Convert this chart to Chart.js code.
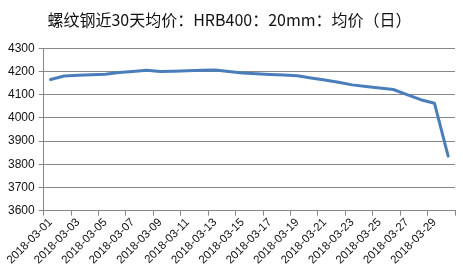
<!DOCTYPE html>
<html>
<head>
<meta charset="utf-8">
<script src="https://cdn.jsdelivr.net/npm/chart.js@4"></script>
<style>
  html, body { margin: 0; padding: 0; background: #fff; }
  #wrap { width: 463px; height: 277px; }
</style>
</head>
<body>
<div id="wrap"><canvas id="priceChart" width="463" height="277"></canvas></div>
<script>
// 2018-03-01 .. 2018-03-30
const dates = [];
for (let d = 1; d <= 30; d++) {
    dates.push('2018-03-' + (d < 10 ? '0' + d : d));
}
const avgPrice = [
    4165, 4180, 4183, 4186, 4188, 4195, 4200, 4205, 4200, 4201,
    4203, 4205, 4206, 4200, 4193, 4190, 4187, 4185, 4181, 4172,
    4163, 4153, 4142, 4135, 4129, 4122, 4100, 4078, 4063, 3835
];
const yTicks = [3600, 3700, 3800, 3900, 4000, 4100, 4200, 4300];

const titleText = '螺纹钢近30天均价：HRB400：20mm：均价（日）';
const gridColor = '#878787';

const config = {
    type: 'line',
    data: {
        labels: dates,
        datasets: [{
            label: '均价',
            data: avgPrice,
            borderColor: '#4a7ebb',
            backgroundColor: '#4a7ebb',
            borderWidth: 3,
            pointRadius: 0,
            tension: 0,
            borderJoinStyle: 'round',
            borderCapStyle: 'round'
        }]
    },
    options: {
        responsive: false,
        animation: false,
        layout: {
            padding: { left: 4, right: 8, top: 0, bottom: 10 }
        },
        plugins: {
            legend: { display: false },
            tooltip: { enabled: false },
            title: {
                display: true,
                text: titleText,
                color: '#111',
                font: { family: '"Noto Sans CJK SC", sans-serif', size: 16, weight: 'normal' },
                padding: { top: 10, bottom: 19 }
            }
        },
        scales: {
            x: {
                offset: true,
                border: { display: true, color: gridColor, width: 1 },
                grid: {
                    offset: true,
                    drawOnChartArea: false,
                    drawTicks: true,
                    tickLength: 5,
                    color: ctx => (ctx.index === undefined || ctx.index % 2 === 0) ? gridColor : 'rgba(0,0,0,0)'
                },
                ticks: {
                    autoSkip: false,
                    minRotation: 45,
                    maxRotation: 45,
                    padding: 0,
                    color: '#111',
                    font: { family: '"Liberation Sans", sans-serif', size: 11.5 },
                    callback: function (value, index) {
                        return index % 2 === 0 ? this.getLabelForValue(value) : '';
                    }
                }
            },
            y: {
                min: yTicks[0],
                max: yTicks[yTicks.length - 1],
                border: { display: true, color: gridColor, width: 1 },
                grid: {
                    color: gridColor,
                    lineWidth: 1,
                    tickLength: 5
                },
                afterBuildTicks: axis => {
                    axis.ticks = yTicks.map(v => ({ value: v }));
                },
                ticks: {
                    padding: 4,
                    color: '#111',
                    font: { family: '"Liberation Sans", sans-serif', size: 12 },
                    callback: value => String(value)
                }
            }
        }
    }
};

new Chart(document.getElementById('priceChart').getContext('2d'), config);
</script>
</body>
</html>
